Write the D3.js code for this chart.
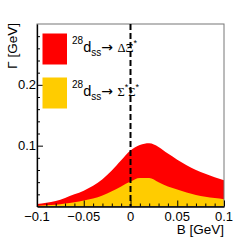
<!DOCTYPE html>
<html>
<head>
<meta charset="utf-8">
<script src="https://cdn.jsdelivr.net/npm/d3@7"></script>
<style>
  body { margin: 0; background: #fff; }
  svg { display: block; }
</style>
</head>
<body>
<svg id="chart" width="249" height="244"></svg>
<script>
// binding energy B [GeV]
const bValues = [-0.1, -0.09, -0.08, -0.07, -0.06, -0.05, -0.04, -0.03, -0.02, -0.01, 0,
  0.01, 0.02, 0.03, 0.04, 0.05, 0.06, 0.07, 0.08, 0.09, 0.1];
// total width (top of red band), d_ss -> Delta Xi*
const gammaTotal = [0.004, 0.006, 0.009, 0.014, 0.020, 0.026, 0.034, 0.045, 0.059, 0.076, 0.092,
  0.101, 0.104, 0.098, 0.087, 0.077, 0.068, 0.060, 0.054, 0.048, 0.043];
// d_ss -> Sigma* Sigma* (yellow band)
const gammaSigma = [0.001, 0.002, 0.003, 0.005, 0.007, 0.010, 0.013, 0.018, 0.025, 0.033, 0.041,
  0.047, 0.047, 0.040, 0.033, 0.028, 0.023, 0.019, 0.016, 0.014, 0.012];

const xMajor = [-0.1, -0.05, 0, 0.05, 0.1];
const yMajor = [0.1, 0.2];

const svg = d3.select("#chart");
const mLeft = 37, mRight = 224, mTop = 24, mBottom = 206.5;

const x = d3.scaleLinear().domain([-0.1, 0.1]).range([mLeft, mRight]);
const y = d3.scaleLinear().domain([0, 0.3]).range([mBottom, mTop]);

const pts = bValues.map((b, i) => ({ b: b, tot: gammaTotal[i], sig: gammaSigma[i] }));

const area = key => d3.area()
  .x(d => x(d.b))
  .y0(y(0))
  .y1(d => y(d[key]))
  .curve(d3.curveMonotoneX);

svg.append("path").datum(pts).attr("fill", "#ff0000").attr("d", area("tot"));
svg.append("path").datum(pts).attr("fill", "#ffcc00").attr("d", area("sig"));

// frame
svg.append("rect")
  .attr("x", mLeft).attr("y", mTop)
  .attr("width", mRight - mLeft).attr("height", mBottom - mTop)
  .attr("fill", "none").attr("stroke", "#777").attr("stroke-width", 1);

// dashed line at B = 0
svg.append("line")
  .attr("x1", x(0)).attr("x2", x(0))
  .attr("y1", y(0.3)).attr("y2", y(0))
  .attr("stroke", "#000").attr("stroke-width", 2)
  .attr("stroke-dasharray", "6,3");

const fmtX = d => d === 0 ? "0" : (d < 0 ? "\u2212" : "") + String(Math.abs(d));

// x axis
const xMinor = d3.range(-10, 11).map(i => i / 100).filter(v => Math.round(v * 100) % 5 !== 0);
svg.append("g").attr("transform", `translate(0,${mBottom})`)
  .call(d3.axisTop(x).tickValues(xMinor).tickSize(3).tickFormat(""))
  .call(g => g.select(".domain").remove());
const gx = svg.append("g").attr("transform", `translate(0,${mBottom})`)
  .call(d3.axisTop(x).tickValues(xMajor).tickSize(6).tickSizeOuter(0).tickFormat(""));
gx.select(".domain").attr("stroke-width", 1.3);
svg.append("g").selectAll("text").data(xMajor).join("text")
  .attr("x", d => x(d)).attr("y", 220.5)
  .attr("text-anchor", "middle")
  .attr("font-family", "Liberation Sans, Arial, sans-serif")
  .attr("font-size", 13)
  .text(fmtX);

// y axis
const yMinor = d3.range(1, 15).map(i => i * 0.02).filter(v => Math.abs(v * 10 - Math.round(v * 10)) > 1e-6);
svg.append("g").attr("transform", `translate(${mLeft},0)`)
  .call(d3.axisRight(y).tickValues(yMinor).tickSize(3).tickFormat(""))
  .call(g => g.select(".domain").remove());
const gy = svg.append("g").attr("transform", `translate(${mLeft},0)`)
  .call(d3.axisRight(y).tickValues(yMajor).tickSize(6).tickSizeOuter(0).tickFormat(""));
gy.select(".domain").attr("stroke-width", 1.3);
svg.append("g").selectAll("text").data(yMajor).join("text")
  .attr("x", mLeft - 1).attr("y", d => y(d) + 4.5)
  .attr("text-anchor", "end")
  .attr("font-family", "Liberation Sans, Arial, sans-serif")
  .attr("font-size", 13)
  .text(d => String(d));

// axis titles
svg.append("text")
  .attr("x", mRight).attr("y", 234)
  .attr("text-anchor", "end")
  .attr("font-family", "Liberation Sans, Arial, sans-serif")
  .attr("font-size", 13.5)
  .text("B [GeV]");
svg.append("text")
  .attr("transform", `translate(16.5,${mTop - 1}) rotate(-90)`)
  .attr("text-anchor", "end")
  .attr("font-family", "Liberation Sans, Arial, sans-serif")
  .attr("font-size", 13.5)
  .text("\u0393 [GeV]");

// legend
const legend = [
  { color: "#ff0000", y0: 33.5, base: 52, final: ["\u0394\u039E"] },
  { color: "#ffcc00", y0: 77.5, base: 96, final: ["\u03A3", "\u03A3"] }
];
legend.forEach(l => {
  svg.append("rect").attr("x", 42.5).attr("y", l.y0)
    .attr("width", 24.5).attr("height", 31).attr("fill", l.color);
  const t = svg.append("text").attr("x", 72).attr("y", l.base)
    .attr("font-family", "Liberation Sans, Arial, sans-serif");
  t.append("tspan").attr("font-size", 10).attr("dy", -8).text("28");
  t.append("tspan").attr("font-size", 14.5).attr("dy", 8).text("d");
  t.append("tspan").attr("font-size", 10).attr("dy", 4).text("ss");
  t.append("tspan").attr("font-size", 14).attr("dy", -4)
    .attr("font-family", "DejaVu Sans, sans-serif").text("\u2192 ");
  l.final.forEach((s, i) => {
    t.append("tspan").attr("font-size", 12.5).attr("dy", i === 0 ? 0 : 6)
      .attr("font-family", "Liberation Serif, serif").text(s);
    t.append("tspan").attr("font-size", 9).attr("dy", -6).text("*");
  });
});
</script>
</body>
</html>
